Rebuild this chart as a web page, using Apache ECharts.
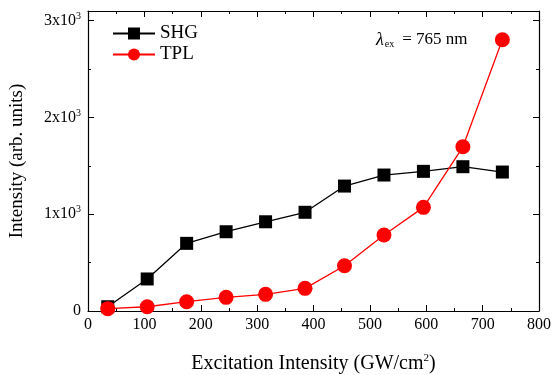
<!DOCTYPE html>
<html><head><meta charset="utf-8">
<script src="https://cdn.jsdelivr.net/npm/echarts@6/dist/echarts.min.js"></script>
<style>html,body{margin:0;padding:0;background:#fff}#c{width:553px;height:375px}</style>
</head><body><div id="c"></div>
<script>
const excitation = [35, 105, 175, 245, 315, 385, 455, 525, 595, 665, 735];
const shg = [44, 331, 699, 819, 922, 1020, 1291, 1405, 1443, 1491, 1436];
const tpl = [24, 44, 96, 141, 172, 234, 468, 785, 1071, 1697, 2803];
const yTickLabels = {0: '0', 1000: '1x10', 2000: '2x10', 3000: '3x10'};

const F = 'Liberation Serif';
const chart = echarts.init(document.getElementById('c'));
const mk = (arr) => excitation.map((x, i) => [x, arr[i]]);
const axisCommon = () => ({
  axisLine: {show: true, onZero: false, lineStyle: {color: '#000', width: 1.2}},
  axisTick: {show: true, inside: true, length: 6, lineStyle: {color: '#000', width: 1}},
  minorTick: {show: true, splitNumber: 2, length: 3, lineStyle: {color: '#000', width: 1}},
  splitLine: {show: false}
});
chart.setOption({
  animation: false,
  textStyle: {fontFamily: F, color: '#000'},
  grid: {left: 88, right: 14, top: 11, bottom: 64, outerBoundsMode: 'none', containLabel: false},
  legend: {
    orient: 'vertical', left: 107, top: 19, itemWidth: 42, itemHeight: 15, itemGap: 2,
    textStyle: {fontFamily: F, fontSize: 19, color: '#000'},
    data: ['SHG', 'TPL']
  },
  xAxis: [
    Object.assign({type: 'value', min: 0, max: 800, interval: 100, position: 'bottom',
      name: 'Excitation Intensity (GW/cm{s|2})', nameLocation: 'middle', nameGap: 42, nameMoveOverlap: false,
      nameTextStyle: {fontFamily: F, fontSize: 20, color: '#000', rich: {s: {fontFamily: F, fontSize: 11, verticalAlign: 'top', padding: [0, 0, 11, 0]}}},
      axisLabel: {fontFamily: F, fontSize: 16, color: '#000', margin: 6}}, axisCommon()),
    Object.assign({type: 'value', min: 0, max: 800, interval: 100, position: 'top',
      axisLabel: {show: false}}, axisCommon())
  ],
  yAxis: [
    Object.assign({type: 'value', min: 0, max: 3100, interval: 1000, position: 'left',
      name: 'Intensity (arb. units)', nameLocation: 'middle', nameGap: 61, nameMoveOverlap: false,
      nameTextStyle: {fontFamily: F, fontSize: 19, color: '#000'},
      axisLabel: {fontFamily: F, fontSize: 16, color: '#000', margin: 7,
        formatter: v => v === 0 ? '{b|0}' : (yTickLabels[v] ? '{b|' + yTickLabels[v] + '}{s|3}' : ''),
        rich: {b: {fontFamily: F, fontSize: 16, color: '#000'}, s: {fontFamily: F, fontSize: 10, color: '#000', verticalAlign: 'top', padding: [0, 0, 9, 0]}}}}, axisCommon()),
    Object.assign({type: 'value', min: 0, max: 3100, interval: 1000, position: 'right',
      axisLabel: {show: false}}, axisCommon())
  ],
  series: [
    {name: 'SHG', type: 'line', data: mk(shg), symbol: 'rect', symbolSize: 13,
      itemStyle: {color: '#000'}, lineStyle: {color: '#000', width: 1.3}, z: 3},
    {name: 'TPL', type: 'line', data: mk(tpl), symbol: 'circle', symbolSize: 15,
      itemStyle: {color: '#ff0000'}, lineStyle: {color: '#ff0000', width: 1.3}, z: 4}
  ],
  graphic: [{
    type: 'text', left: 376, top: 31,
    style: {
      text: '{i|λ}{sub|ex}{n|= 765 nm}',
      rich: {
        i: {fontFamily: F, fontSize: 18, fontStyle: 'italic', fill: '#000'},
        sub: {fontFamily: F, fontSize: 10, fill: '#000', verticalAlign: 'bottom', padding: [8, 8, 0, 1]},
        n: {fontFamily: F, fontSize: 17, fill: '#000'}
      }
    }
  }]
});
</script></body></html>
